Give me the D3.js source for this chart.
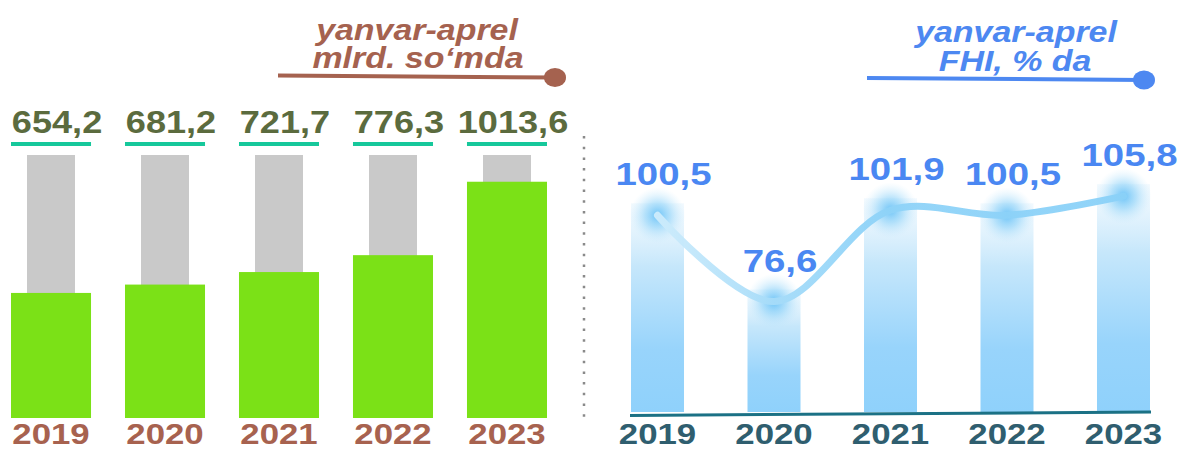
<!DOCTYPE html>
<html>
<head>
<meta charset="utf-8">
<script src="https://cdn.jsdelivr.net/npm/d3@7"></script>
<style>
  body { margin: 0; background: #fff; }
  svg { display: block; font-family: "Liberation Sans", Arial, sans-serif; font-weight: bold; }
</style>
</head>
<body>
<script>
const years = ['2019', '2020', '2021', '2022', '2023'];
const volume = [654.2, 681.2, 721.7, 776.3, 1013.6];   // mlrd. so'm
const growth = [100.5, 76.6, 101.9, 100.5, 105.8];     // FHI, %

const fmt = (v) => v.toFixed(1).replace('.', ',');

const width = 1177;
const height = 450;

const svg = d3.select('body').append('svg')
  .attr('width', width)
  .attr('height', height);

const defs = svg.append('defs');

// text helper: stretched horizontally like the source picture
const addText = (g, str, x, y, size, color, sx, italic) => g.append('text')
  .attr('transform', `translate(${x}, ${y}) scale(${sx}, 1)`)
  .attr('text-anchor', 'middle')
  .style('font-size', size + 'px')
  .style('font-style', italic ? 'italic' : 'normal')
  .attr('fill', color)
  .text(str);

// ---------- left panel ----------
const left = svg.append('g');

const x1 = d3.scaleBand().domain(years).range([11, 547]).paddingInner(0.298);
const y1 = d3.scaleLinear().domain([250, 1100]).range([418, 155]);
const grayW = 48;

left.selectAll('rect.bg')
  .data(years)
  .enter()
  .append('rect')
  .attr('class', 'bg')
  .attr('x', (d) => x1(d) + (x1.bandwidth() - grayW) / 2)
  .attr('y', y1(y1.domain()[1]))
  .attr('width', grayW)
  .attr('height', y1(y1.domain()[0]) - y1(y1.domain()[1]))
  .attr('fill', '#c9c9c9');

left.selectAll('rect.bar')
  .data(volume)
  .enter()
  .append('rect')
  .attr('class', 'bar')
  .attr('x', (d, i) => x1(years[i]))
  .attr('y', (d) => y1(d))
  .attr('width', x1.bandwidth())
  .attr('height', (d) => y1(y1.domain()[0]) - y1(d))
  .attr('fill', '#7be117');

left.selectAll('rect.under')
  .data(years)
  .enter()
  .append('rect')
  .attr('class', 'under')
  .attr('x', (d) => x1(d))
  .attr('y', 142)
  .attr('width', x1.bandwidth())
  .attr('height', 4)
  .attr('fill', '#16c89b');

volume.forEach((v, i) => {
  const cx = x1(years[i]) + x1.bandwidth() / 2;
  addText(left, fmt(v), cx + 6, 133, 32, '#5b6b3e', 1.13, false);
  addText(left, years[i], cx, 444, 29, '#a7624f', 1.2, false);
});

addText(left, 'yanvar-aprel', 417, 40, 29, '#a5624f', 1.17, true);
addText(left, 'mlrd. so\u2018mda', 418, 68, 29, '#a5624f', 1.17, true);
left.append('line')
  .attr('x1', 278).attr('y1', 75.5).attr('x2', 555).attr('y2', 77.5)
  .attr('stroke', '#a5624f').attr('stroke-width', 4);
left.append('ellipse')
  .attr('cx', 555).attr('cy', 77.5).attr('rx', 11).attr('ry', 9.5)
  .attr('fill', '#a5624f');

// dotted separator
svg.append('line')
  .attr('x1', 584).attr('x2', 584).attr('y1', 136).attr('y2', 425)
  .attr('stroke', '#8a8a8a').attr('stroke-width', 2.5)
  .attr('stroke-dasharray', '2.5 8.2');

// ---------- right panel ----------
const right = svg.append('g');

const x2 = d3.scaleBand().domain(years).range([631, 1150]).paddingInner(0.545);
const y2 = d3.scaleLinear().domain([46, 110]).range([412, 181]);
const cx2 = (i) => x2(years[i]) + x2.bandwidth() / 2;

const barGrad = defs.append('linearGradient')
  .attr('id', 'barGrad').attr('x1', 0).attr('y1', 0).attr('x2', 0).attr('y2', 1);
barGrad.append('stop').attr('offset', '0%').attr('stop-color', '#e6f4fd').attr('stop-opacity', 0.5);
barGrad.append('stop').attr('offset', '30%').attr('stop-color', '#c6e7fb');
barGrad.append('stop').attr('offset', '70%').attr('stop-color', '#98d4fb');
barGrad.append('stop').attr('offset', '100%').attr('stop-color', '#8fd1fb');

const glow = defs.append('radialGradient').attr('id', 'glow');
glow.append('stop').attr('offset', '0%').attr('stop-color', '#5dbdf6').attr('stop-opacity', 0.9);
glow.append('stop').attr('offset', '45%').attr('stop-color', '#8fd3f9').attr('stop-opacity', 0.6);
glow.append('stop').attr('offset', '100%').attr('stop-color', '#c9eafc').attr('stop-opacity', 0);

const lineGrad = defs.append('linearGradient')
  .attr('id', 'lineGrad').attr('gradientUnits', 'userSpaceOnUse')
  .attr('x1', 640).attr('x2', 1140).attr('y1', 0).attr('y2', 0);
lineGrad.append('stop').attr('offset', '0%').attr('stop-color', '#d3eefc');
lineGrad.append('stop').attr('offset', '25%').attr('stop-color', '#a9ddf9');
lineGrad.append('stop').attr('offset', '45%').attr('stop-color', '#8fd3f8');
lineGrad.append('stop').attr('offset', '100%').attr('stop-color', '#8ad1f8');

right.selectAll('rect.bar')
  .data(growth)
  .enter()
  .append('rect')
  .attr('class', 'bar')
  .attr('x', (d, i) => x2(years[i]))
  .attr('y', (d) => y2(d) - 12)
  .attr('width', x2.bandwidth())
  .attr('height', (d) => y2.range()[0] - y2(d) + 12)
  .attr('fill', 'url(#barGrad)');

right.append('line')
  .attr('x1', 630).attr('y1', 415.5).attr('x2', 1151).attr('y2', 412)
  .attr('stroke', '#1b7185').attr('stroke-width', 3);

right.selectAll('circle.glow')
  .data(growth)
  .enter()
  .append('circle')
  .attr('class', 'glow')
  .attr('cx', (d, i) => cx2(i))
  .attr('cy', (d) => y2(d))
  .attr('r', 28)
  .attr('fill', 'url(#glow)');

const curve = d3.line()
  .x((d, i) => cx2(i))
  .y((d) => y2(d))
  .curve(d3.curveCatmullRom);

right.append('path')
  .datum(growth)
  .attr('d', curve)
  .attr('fill', 'none')
  .attr('stroke', 'url(#lineGrad)')
  .attr('stroke-width', 7)
  .attr('stroke-linecap', 'round')
  .attr('opacity', 0.95);

growth.forEach((v, i) => {
  addText(right, fmt(v), cx2(i) + 6, y2(v) - 30, 32, '#4a87f2', 1.2, false);
  addText(right, years[i], cx2(i), 444, 29, '#2f5e6f', 1.2, false);
});

addText(right, 'yanvar-aprel', 1016, 42, 29, '#4d88f1', 1.17, true);
addText(right, 'FHI, % da', 1015, 71, 29, '#4d88f1', 1.17, true);
right.append('line')
  .attr('x1', 867).attr('y1', 78).attr('x2', 1144).attr('y2', 80)
  .attr('stroke', '#4d88f1').attr('stroke-width', 4);
right.append('ellipse')
  .attr('cx', 1144).attr('cy', 80).attr('rx', 11).attr('ry', 9.5)
  .attr('fill', '#4d88f1');
</script>
</body>
</html>
